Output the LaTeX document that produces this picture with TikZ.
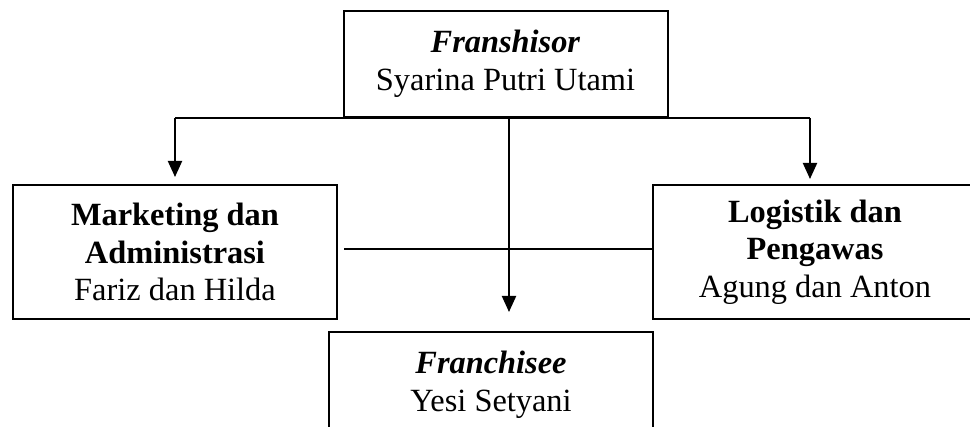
\documentclass[tikz,border=0pt]{standalone}
\usepackage{fontspec}
\setmainfont{Liberation Serif}
\usetikzlibrary{arrows.meta,positioning,calc}
\tikzset{
  orgbox/.style={
    draw,line width=1pt,align=center,minimum width=162pt,
    minimum height=53pt,inner sep=2pt,font=\fontsize{16.2}{18.8}\selectfont
  },
  tallbox/.style={orgbox,minimum height=67pt},
  orgarrow/.style={-{Triangle[length=8pt,width=7pt]},line width=1pt},
  barline/.style={line width=1pt},
  linkline/.style={line width=0.7pt}
}

\begin{document}
\begin{tikzpicture}[x=0.5pt,y=-0.5pt]
  \useasboundingbox (0,0) rectangle (970,427);
  \node[orgbox] (franshisor) at (505.5,64) {\textbf{\textit{Franshisor}}\\
    Syarina Putri Utami};
  \node[tallbox] (marketing) at (175,252) {\textbf{Marketing dan}\\
    \textbf{Administrasi}\\Fariz dan Hilda};
  \node[tallbox] (logistik) at (815,252) {\textbf{Logistik dan}\\
    \textbf{Pengawas}\\Agung dan Anton};
  \node[orgbox] (franchisee) at (491,385) {\textbf{\textit{Franchisee}}\\
    Yesi Setyani};
  \coordinate (drop) at (509,312);
  \coordinate (rightdrop) at ([xshift=-2.5pt]logistik.north);
  \draw[barline] (franshisor.south -| marketing) -- (franshisor.south -| rightdrop);
  \draw[orgarrow,shorten >=3.5pt] (franshisor.south -| marketing) -- (marketing.north);
  \draw[orgarrow,shorten >=2.5pt] (franshisor.south -| rightdrop) -- (rightdrop);
  \draw[orgarrow] (franshisor.south -| drop) -- (drop);
  \draw[linkline] ([shift={(6,-3)}]marketing.east) -- ([shift={(0,-3)}]logistik.west);
\end{tikzpicture}
\end{document}
